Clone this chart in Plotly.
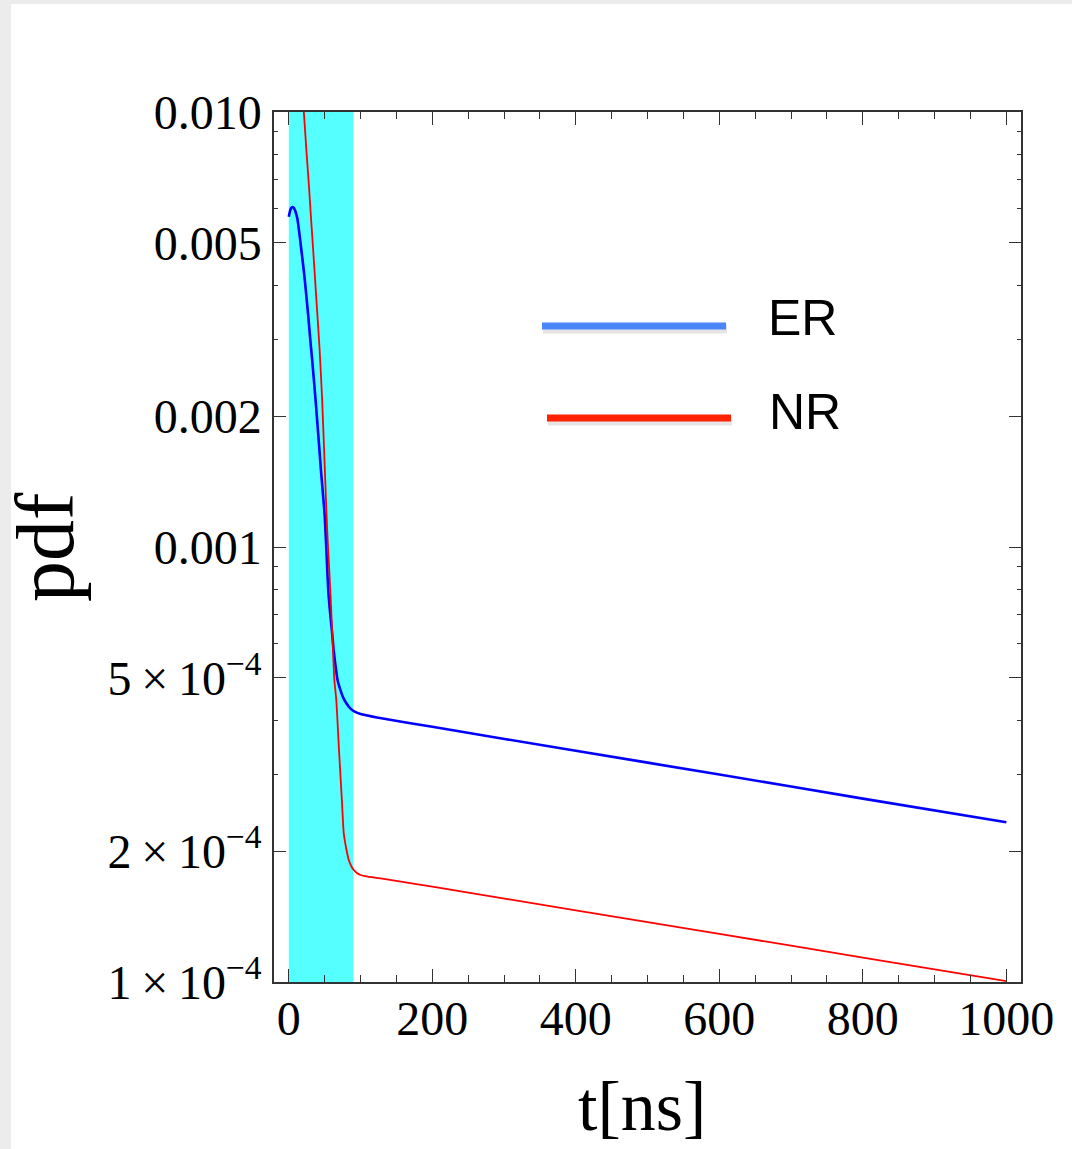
import plotly.graph_objects as go

# ---- data ----
t_er = [0, 1, 2, 3, 4, 5.5, 7, 8.5, 10, 12, 15, 17.5, 20, 22.5, 25, 27.5, 30, 32.5, 35, 37.5, 40, 42.5, 45,
        47.5, 50, 52.5, 55, 57.5, 60, 62.5, 65, 68, 72, 76, 80, 86, 90, 100, 125, 200, 400, 600, 800, 1000]
pdf_er = [0.005744, 0.00585, 0.00594, 0.00600, 0.00603, 0.006050, 0.00602, 0.00595, 0.005857, 0.00568,
          0.005216, 0.004817, 0.004449, 0.00408, 0.003697, 0.00334, 0.002991, 0.00270, 0.002420, 0.00216,
          0.001908, 0.00169, 0.001488, 0.00133, 0.001185, 9.75e-4, 7.96e-4, 7.09e-4, 6.44e-4, 5.80e-4,
          5.36e-4, 4.94e-4, 4.69e-4, 4.50e-4, 4.38e-4, 4.25e-4, 4.20e-4, 4.13e-4, 4.05e-4, 3.86e-4,
          3.40e-4, 3.00e-4, 2.64e-4, 2.33e-4]

t_nr = [10, 15, 18, 21, 24.5, 28, 31, 34, 38.5, 43, 46.5, 50, 53.5, 56, 58.5, 61, 63.5, 66.2, 70, 74, 76.6,
        80, 83.6, 87, 90.6, 95, 100, 110, 128, 200, 400, 600, 800, 1000]
pdf_nr = [0.018, 0.0140, 0.0118, 0.01, 0.00818, 0.0068, 0.00570, 0.004817, 0.003697, 0.002838, 0.002177,
          0.001544, 0.001094, 9.09e-4, 7.55e-4, 6.11e-4, 4.95e-4, 4.45e-4, 3.41e-4, 2.62e-4, 2.20e-4,
          2.03e-4, 1.908e-4, 1.848e-4, 1.809e-4, 1.78e-4, 1.762e-4, 1.747e-4, 1.731e-4, 1.656e-4,
          1.461e-4, 1.290e-4, 1.138e-4, 1.005e-4]

band_start, band_end = 0, 90

x_tickvals = [0, 200, 400, 600, 800, 1000]
x_ticktext = ["0", "200", "400", "600", "800", "1000"]
y_tickvals = [0.01, 0.005, 0.002, 0.001, 5e-4, 2e-4, 1e-4]
y_ticktext = ["0.010", "0.005", "0.002", "0.001",
              "5\u2009×\u200910<sup>−4</sup>", "2\u2009×\u200910<sup>−4</sup>", "1\u2009×\u200910<sup>−4</sup>"]
y_minor = [0.009, 0.008, 0.007, 0.006, 0.004, 0.003,
           9e-4, 8e-4, 7e-4, 6e-4, 4e-4, 3e-4]

series_names = ["ER", "NR"]
series_colors = ["#0000ff", "#ff0000"]
legend_colors = ["#4a86f7", "#ff2200"]

# ---- figure ----
W, H = 1072, 1149
L, R, T, B = 274, 51, 112, 167
pw, ph = W - L - R, H - T - B

def px(xp):
    return (xp - L) / pw

def py(yp):
    return (H - B - yp) / ph

fig = go.Figure()
fig.add_trace(go.Scatter(x=t_er, y=pdf_er, mode="lines", name=series_names[0],
                         line=dict(color=series_colors[0], width=2.6, shape="spline", smoothing=0.6),
                         showlegend=False))
fig.add_trace(go.Scatter(x=t_nr, y=pdf_nr, mode="lines", name=series_names[1],
                         line=dict(color=series_colors[1], width=1.8, shape="spline", smoothing=0.6),
                         showlegend=False))

shapes = []
# page panel
shapes.append(dict(type="rect", xref="paper", yref="paper", x0=px(11), x1=px(W + 5), y0=py(H + 5), y1=py(4),
                   fillcolor="white", line=dict(width=0), layer="below"))
# cyan band
shapes.append(dict(type="rect", xref="x", yref="y domain", x0=band_start, x1=band_end, y0=0, y1=1,
                   fillcolor="#55ffff", line=dict(width=0), layer="below"))
# legend lines with soft shadow
leg_y = [326, 418]
leg_x = [(542, 726), (547, 731)]
for i in range(2):
    x0, x1 = leg_x[i]
    shapes.append(dict(type="line", xref="paper", yref="paper", x0=px(x0 + 1), x1=px(x1 + 1),
                       y0=py(leg_y[i] + 3), y1=py(leg_y[i] + 3),
                       line=dict(color="rgba(0,0,0,0.10)", width=9)))
    shapes.append(dict(type="line", xref="paper", yref="paper", x0=px(x0), x1=px(x1),
                       y0=py(leg_y[i]), y1=py(leg_y[i]),
                       line=dict(color=legend_colors[i], width=7)))

annotations = [
    dict(text="ER", xref="paper", yref="paper", x=px(766), y=py(318), xanchor="left", yanchor="middle",
         showarrow=False, font=dict(family="Liberation Sans", size=50, color="black")),
    dict(text="NR", xref="paper", yref="paper", x=px(767), y=py(412), xanchor="left", yanchor="middle",
         showarrow=False, font=dict(family="Liberation Sans", size=50, color="black")),
    dict(text="pdf", xref="paper", yref="paper", x=px(45), y=py(547), xanchor="center", yanchor="middle",
         textangle=-90, showarrow=False, font=dict(family="Liberation Serif", size=82, color="black")),
    dict(text="t[ns]", xref="paper", yref="paper", x=px(642), y=py(1106), xanchor="center", yanchor="middle",
         showarrow=False, font=dict(family="Liberation Serif", size=70, color="black")),
]

axis_common = dict(showline=True, linecolor="#333333", linewidth=1.5, mirror="allticks",
                   ticks="inside", tickcolor="#333333", tickwidth=1.2, showgrid=False, zeroline=False,
                   tickfont=dict(family="Liberation Serif", size=48, color="black"))

fig.update_layout(
    width=W, height=H,
    margin=dict(l=L, r=R, t=T, b=B),
    paper_bgcolor="#ececec", plot_bgcolor="white",
    shapes=shapes, annotations=annotations,
    showlegend=False,
    xaxis=dict(range=[-20.6, 1020.4], tickmode="array", tickvals=x_tickvals, ticktext=x_ticktext,
               ticklen=13, ticklabelstandoff=-6,
               minor=dict(ticks="inside", tickmode="linear", tick0=0, dtick=50, ticklen=7,
                          tickcolor="#333333", tickwidth=1.2, showgrid=False),
               **axis_common),
    yaxis=dict(type="log", range=[-4, -2], tickmode="array", tickvals=y_tickvals, ticktext=y_ticktext,
               ticklen=12, ticklabelstandoff=1,
               minor=dict(ticks="inside", tickmode="array", tickvals=y_minor, ticklen=4,
                          tickcolor="#333333", tickwidth=1.2, showgrid=False),
               **axis_common),
)

fig.write_html("out.html")
